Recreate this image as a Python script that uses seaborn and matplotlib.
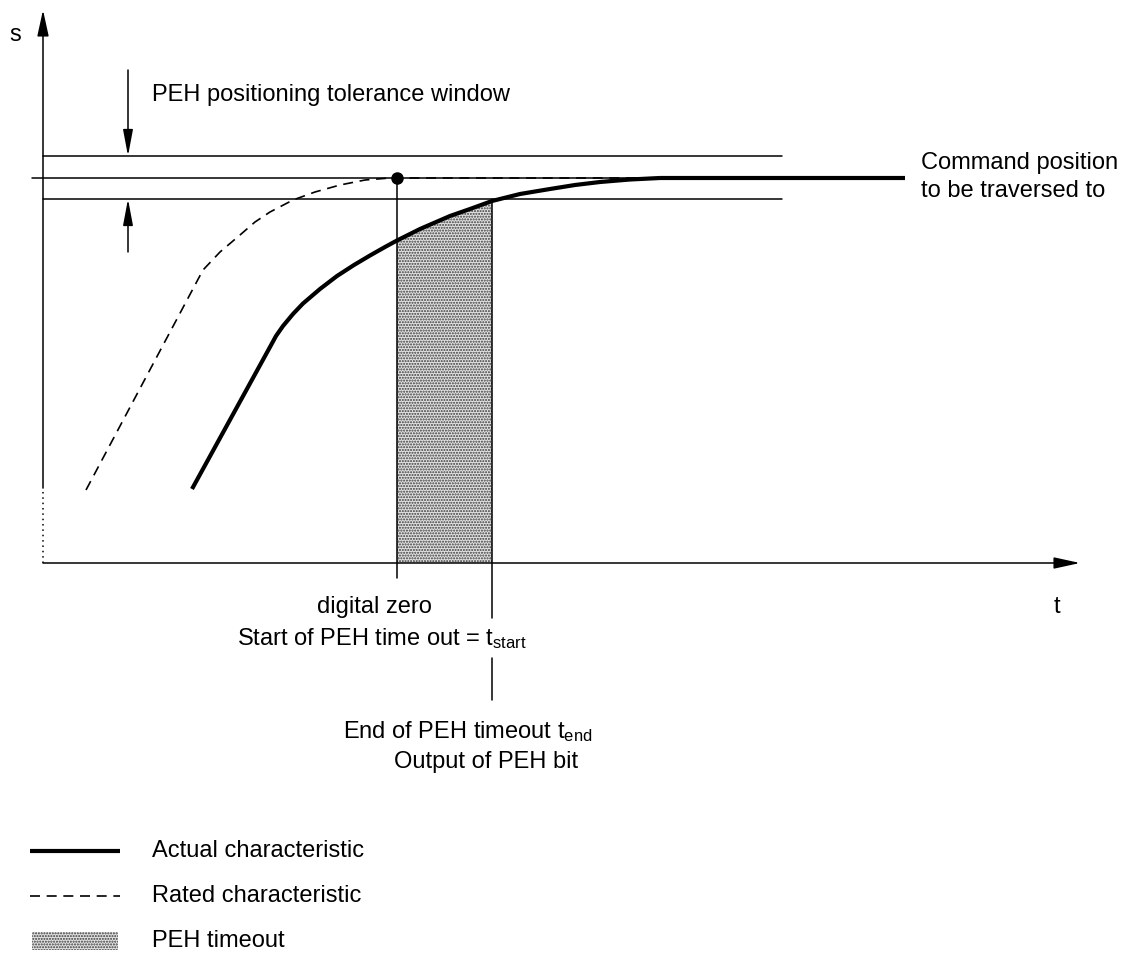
import numpy as np
import matplotlib
matplotlib.use("Agg")
import matplotlib.pyplot as plt
import seaborn as sns
from matplotlib.patches import Rectangle

sns.set_style("white")
plt.rcParams['font.family'] = ['Liberation Sans', 'DejaVu Sans']
plt.rcParams['text.color'] = 'black'
plt.rcParams['mathtext.fontset'] = 'custom'
plt.rcParams['mathtext.rm'] = 'Liberation Sans'
plt.rcParams['mathtext.it'] = 'Liberation Sans'
plt.rcParams['hatch.linewidth'] = 1.0

# ---- data (diagram units: t = time, s = position) ----
rated_t = [43, 152, 160, 177, 197, 212, 227, 250, 272, 297, 322, 347, 354, 617]
rated_s = [73, 278, 293, 311, 328, 341, 351, 363, 371, 378, 383, 385, 385, 385]

actual_t = [149, 227, 233, 240, 250, 260, 277, 294, 311, 327, 342, 354, 377, 407, 427, 449,
            477, 507, 532, 557, 587, 617]
actual_s = [74, 216, 227, 237, 249, 259.5, 274, 287, 298, 307.5, 316, 322.5, 334, 347, 354, 362,
            369, 374, 378, 381, 383.5, 385]
actual_end_t = [617, 862]
actual_end_s = [385, 385]

command_s = 385
tol_upper = 407
tol_lower = 364
tol_t_end = 739
t_digital_zero = 354
t_end = 449

labels = {
    "s": "s",
    "t": "t",
    "tol": "PEH positioning tolerance window",
    "cmd": "Command position\nto be traversed to",
    "dz": "digital zero",
    "start": r"Start of PEH time out = $\mathrm{t_{start}}$",
    "end": r"End of PEH timeout $\mathrm{t_{end}}$",
    "bit": "Output of PEH bit",
}
legend_labels = ["Actual characteristic", "Rated characteristic", "PEH timeout"]

FS = 17

fig = plt.figure(figsize=(11.25, 9.61), dpi=100)
ax = fig.add_axes([0, 0, 1, 1])
ax.set_xlim(-43, 1082)
ax.set_ylim(-398, 563)
ax.axis("off")

thin = 1.1
thick = 3.0
dash = (0, (6, 4))

arrow_kw = dict(arrowstyle="-|>,head_length=1.6,head_width=0.35", color="black", lw=thin,
                shrinkA=0, shrinkB=0)

# axes
ax.annotate("", xy=(0, 553), xytext=(0, 75), arrowprops=arrow_kw)
ax.plot([0, 0], [0, 75], color="black", lw=thin, linestyle=(0, (1, 2.5)))
ax.annotate("", xy=(1037, 0), xytext=(0, 0), arrowprops=arrow_kw)

# tolerance lines and command
ax.plot([0, tol_t_end], [tol_upper, tol_upper], color="black", lw=thin)
ax.plot([0, tol_t_end], [tol_lower, tol_lower], color="black", lw=thin)
ax.plot([-11, 617], [command_s, command_s], color="black", lw=thin)

# tolerance arrows
arrow_kw2 = dict(arrow_kw, arrowstyle="-|>,head_length=1.6,head_width=0.3")
ax.annotate("", xy=(85, tol_upper), xytext=(85, 493), arrowprops=arrow_kw2)
ax.annotate("", xy=(85, tol_lower), xytext=(85, 311), arrowprops=arrow_kw2)

# shaded timeout region
tt = np.linspace(t_digital_zero, t_end, 60)
ss = np.interp(tt, actual_t, actual_s)
ax.fill_between(tt, 0, ss, facecolor="#e2e2e2", edgecolor="#3a3a3a", hatch="......", lw=0)

# curves
sns.lineplot(x=rated_t, y=rated_s, sort=False, estimator=None, ax=ax, color="black",
             lw=1.2, linestyle=dash)
sns.lineplot(x=actual_t, y=actual_s, sort=False, estimator=None, ax=ax, color="black",
             lw=thick, solid_capstyle="butt", solid_joinstyle="round")
sns.lineplot(x=actual_end_t, y=actual_end_s, sort=False, estimator=None, ax=ax, color="black",
             lw=thick, solid_capstyle="butt")

# vertical markers
ax.plot([t_digital_zero, t_digital_zero], [command_s, -15], color="black", lw=thin)
ax.plot([t_digital_zero], [command_s], marker="o", color="black", markersize=8)
ax.plot([t_end, t_end], [tol_lower, -55], color="black", lw=thin)
ax.plot([t_end, t_end], [-95, -137], color="black", lw=thin)

# texts
ax.text(-28, 528, labels["s"], fontsize=FS, ha="center", va="center")
ax.text(1014, -44, labels["t"], fontsize=FS, ha="center", va="center")
ax.text(109, 468, labels["tol"], fontsize=FS, ha="left", va="center")
ax.text(878, 386, labels["cmd"], fontsize=FS, ha="left", va="center", linespacing=1.3)
ax.text(331, -44, labels["dz"], fontsize=FS, ha="center", va="center")
ax.text(339, -76, labels["start"], fontsize=FS, ha="center", va="center")
ax.text(425, -169, labels["end"], fontsize=FS, ha="center", va="center")
ax.text(443, -199, labels["bit"], fontsize=FS, ha="center", va="center")

# legend
ax.plot([-13, 77], [-288, -288], color="black", lw=thick, solid_capstyle="butt")
ax.plot([-13, 77], [-333, -333], color="black", lw=1.2, linestyle=dash)
ax.add_patch(Rectangle((-11, -387), 86, 18, facecolor="#e2e2e2", edgecolor="#3a3a3a",
                       hatch="......", lw=0))
for lab, yy in zip(legend_labels, [-288, -333, -378]):
    ax.text(109, yy, lab, fontsize=FS, ha="left", va="center")

fig.savefig("out.png", dpi=100, facecolor="white")
